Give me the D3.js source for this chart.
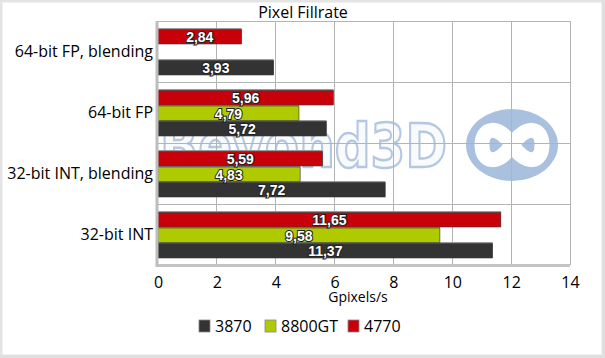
<!DOCTYPE html>
<html><head><meta charset="utf-8">
<script src="https://cdn.jsdelivr.net/npm/d3@7"></script>
<style>
html,body{margin:0;padding:0;background:#fff;}
svg{display:block;font-family:"Open Sans","Liberation Sans",sans-serif;}
</style></head>
<body>
<svg id="c" width="605" height="358"></svg>
<script>
const title = "Pixel Fillrate";
const categories = ["64-bit FP, blending", "64-bit FP", "32-bit INT, blending", "32-bit INT"];
const seriesNames = ["4770", "8800GT", "3870"];
const values4770 = [2.84, 5.96, 5.59, 11.65];
const values8800GT = [null, 4.79, 4.83, 9.58];
const values3870 = [3.93, 5.72, 7.72, 11.37];
const seriesColors = ["#c8000a", "#afcb00", "#333333"];
const xTicks = [0, 2, 4, 6, 8, 10, 12, 14];
const xTitle = "Gpixels/s";
const legendOrder = ["3870", "8800GT", "4770"];

(function () {
const seriesValues = {"4770": values4770, "8800GT": values8800GT, "3870": values3870};
const color = d3.scaleOrdinal().domain(seriesNames).range(seriesColors);

const svg = d3.select("#c");
const W = 605, H = 358;
const pLeft = 158, pRight = 570, pTop = 21, pBottom = 265;

// outer frame
svg.append("rect").attr("x", 1).attr("y", 1).attr("width", W - 3).attr("height", H - 3)
  .attr("fill", "#fff").attr("stroke", "#e4e4e4").attr("stroke-width", 3);
svg.append("line").attr("x1", W - 1.5).attr("x2", W - 1.5).attr("y1", 0).attr("y2", H)
  .attr("stroke", "#e0e0e0").attr("stroke-width", 3);
svg.append("line").attr("x1", 0).attr("x2", W).attr("y1", H - 1.5).attr("y2", H - 1.5)
  .attr("stroke", "#e0e0e0").attr("stroke-width", 3);

const x = d3.scaleLinear().domain([0, 14]).range([pLeft, pRight]);
const y = d3.scaleBand().domain(categories).range([pTop, pBottom]);
const inner = d3.scaleBand().domain(seriesNames).range([8.5, 55]);

// title
svg.append("text").attr("x", 303).attr("y", 18).attr("text-anchor", "middle")
  .attr("font-size", 16).attr("fill", "#000").text(title);

// watermark
const wm = svg.append("g").attr("opacity", 0.7);
wm.append("text").attr("x", 160).attr("y", 167).attr("font-family", "DejaVu Sans")
  .attr("font-weight", "bold").attr("font-size", 60).attr("textLength", 287)
  .attr("lengthAdjust", "spacingAndGlyphs")
  .attr("fill", "#f7f9fc").attr("stroke", "#97b1d6").attr("stroke-width", 2.5).text("Beyond3D");
wm.append("ellipse").attr("cx", 512).attr("cy", 145).attr("rx", 46).attr("ry", 36)
  .attr("fill", "#86a6d2");
wm.append("path")
  .attr("d", "M512,145 C498,124 482,127 482,145 C482,163 498,166 512,145 C526,124 542,127 542,145 C542,163 526,166 512,145 Z")
  .attr("fill", "none").attr("stroke", "#fff").attr("stroke-width", 15).attr("stroke-linejoin", "round");

// gridlines
const grid = svg.append("g");
grid.selectAll("line.v").data(xTicks.slice(1)).join("line")
  .attr("x1", d => x(d)).attr("x2", d => x(d)).attr("y1", pTop).attr("y2", pBottom)
  .attr("stroke", "#b4b4b4").attr("stroke-width", 1).attr("shape-rendering", "crispEdges");
grid.selectAll("line.h").data(categories).join("line")
  .attr("x1", pLeft).attr("x2", pRight).attr("y1", d => y(d)).attr("y2", d => y(d))
  .attr("stroke", "#b4b4b4").attr("stroke-width", 1).attr("shape-rendering", "crispEdges");

// bottom axis line (gray, thick)
svg.append("line").attr("x1", pLeft - 2).attr("x2", pRight).attr("y1", pBottom + 0.5).attr("y2", pBottom + 0.5)
  .attr("stroke", "#c4c4c4").attr("stroke-width", 3);

// bars
const barData = [];
categories.forEach((c, i) => {
  seriesNames.forEach(s => {
    const v = seriesValues[s][i];
    if (v != null) barData.push({cat: c, series: s, value: v});
  });
});
const bars = svg.append("g");
bars.selectAll("rect.sh").data(barData).join("rect").attr("class", "sh")
  .attr("x", x(0) - 1).attr("y", d => y(d.cat) + inner(d.series) - 1.5)
  .attr("width", d => x(d.value) - x(0) + 1).attr("height", inner.bandwidth())
  .attr("fill", "#9a9a9a");
bars.selectAll("rect.b").data(barData).join("rect").attr("class", "b")
  .attr("x", x(0)).attr("y", d => y(d.cat) + inner(d.series))
  .attr("width", d => x(d.value) - x(0)).attr("height", inner.bandwidth() - 1)
  .attr("fill", d => color(d.series)).attr("stroke", "#3a3a3a").attr("stroke-width", 0.6);
bars.selectAll("text").data(barData).join("text")
  .attr("x", d => (x(0) + x(d.value)) / 2)
  .attr("y", d => y(d.cat) + inner(d.series) + inner.bandwidth() / 2 + 5)
  .attr("text-anchor", "middle").attr("font-size", 14).attr("font-weight", "bold")
  .attr("font-family", "Liberation Sans Narrow, Liberation Sans, sans-serif")
  .attr("fill", "#fff").attr("stroke", "#222").attr("stroke-width", 2).attr("paint-order", "stroke")
  .text(d => d3.format(".2f")(d.value).replace(".", ","));

// left axis line
svg.append("line").attr("x1", pLeft - 1).attr("x2", pLeft - 1).attr("y1", pTop).attr("y2", pBottom + 2)
  .attr("stroke", "#bdbdbd").attr("stroke-width", 3);

// category labels
svg.append("g").selectAll("text").data(categories).join("text")
  .attr("x", 153).attr("y", d => y(d) + y.bandwidth() / 2 + 5.5)
  .attr("text-anchor", "end").attr("font-size", 16).attr("fill", "#000").text(d => d);

// x axis
const xAxis = svg.append("g").attr("transform", `translate(0,${pBottom})`)
  .call(d3.axisBottom(x).tickValues(xTicks).tickSize(0).tickPadding(12).tickFormat(d3.format("d")));
xAxis.select(".domain").remove();
xAxis.selectAll("text").attr("font-size", 16).attr("font-family", "Open Sans, sans-serif").attr("fill", "#000");

svg.append("text").attr("x", 358).attr("y", 302).attr("text-anchor", "middle")
  .attr("font-size", 14).attr("fill", "#000").text(xTitle);

// legend
const legendPos = {"3870": 199, "8800GT": 265, "4770": 348};
const lg = svg.append("g").selectAll("g").data(legendOrder).join("g")
  .attr("transform", d => `translate(${legendPos[d]},320)`);
lg.append("rect").attr("width", 11).attr("height", 12).attr("fill", d => color(d))
  .attr("stroke", "#888").attr("stroke-width", 0.8);
lg.append("text").attr("x", 16).attr("y", 11.5).attr("font-size", 16).attr("fill", "#000").text(d => d);
})();
</script>
</body></html>
